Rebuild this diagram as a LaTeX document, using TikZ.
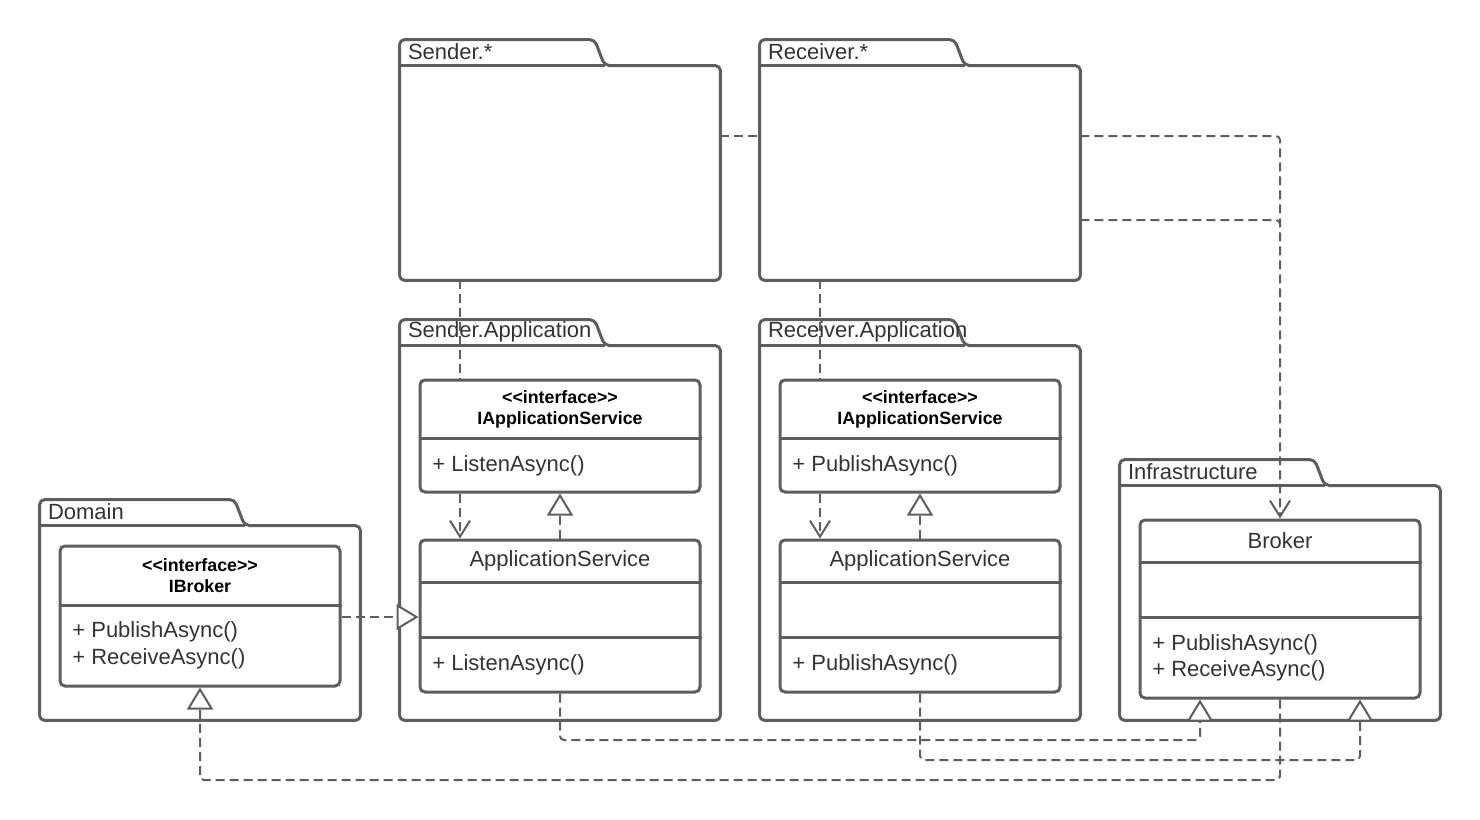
\documentclass[tikz,border=0pt]{standalone}
\usepackage{fontspec}
\newfontfamily\umlfont{Liberation Sans}
\usetikzlibrary{arrows.meta}
\usetikzlibrary{fit}
\definecolor{umlgray}{HTML}{5E5E5E}
\definecolor{umltext}{HTML}{333333}
\newcommand{\package}[7] % name, x1, y1, x2, y2 of body in px, tab width in px, label
{
	% body (for anchors only)
	\node[pkgbody, fit={(#2,#3) (#4,#5)}] (#1) {};
	% outline with tab
	\draw[pkgline] ([shift={(#6,0)}]#1.north west) -- (#1.north east) -- (#1.south east)
		-- (#1.south west) -- ([shift={(0,-26)}]#1.north west)
		-- ([shift={(#6-10,-26)}]#1.north west) -- cycle;
	% tab bottom
	\draw[pkgline] (#1.north west) -- ([shift={(#6,0)}]#1.north west);
	% label
	\node[pkglabel] (#1-label) at ([shift={(8,-14)}]#1.north west) {#7};
}
\newcommand{\umlclass}[5] % name, x1, y1, x2, y2 in px
{
	\node[classbox, fit={(#2,#3) (#4,#5)}] (#1) {};
}

\begin{document}
\begin{tikzpicture}[x=0.5pt, y=-0.5pt,
	pkgbody/.style={inner sep=0pt},
	pkgline/.style={draw=umlgray, line width=1.5pt, rounded corners=2.5pt},
	classbox/.style={draw=umlgray, line width=1.5pt, rounded corners=2.5pt, inner sep=0pt},
	pkglabel/.style={anchor=west, inner sep=0pt, text=umltext, font=\umlfont\fontsize{11}{13}\selectfont},
	member/.style={anchor=west, inner sep=0pt, align=left, text=umltext, font=\umlfont\fontsize{11}{13.25}\selectfont},
	title/.style={inner sep=0pt, text=umltext, font=\umlfont\fontsize{11}{13}\selectfont},
	stereo/.style={inner sep=0pt, align=center, text=black, font=\umlfont\bfseries\fontsize{8.9}{10.5}\selectfont},
	dep/.style={draw=umlgray, line width=1pt, dash pattern=on 4.5pt off 2.5pt, rounded corners=2pt},
	depend/.style={dep, -{Straight Barb[length=8pt, width=10pt]}},
	realize/.style={dep, -{Triangle[length=11pt, width=13pt, fill=white]}}]
	\useasboundingbox (0,0) rectangle (1480,820);
	% packages
	\package{senderpkg}{400}{66}{720}{280}{205}{Sender.*}
	\package{receiverpkg}{760}{66}{1080}{280}{205}{Receiver.*}
	\package{senderapp}{400}{346}{720}{720}{205}{Sender.Application}
	\package{receiverapp}{760}{346}{1080}{720}{205}{Receiver.Application}
	\package{domain}{40}{526}{360}{720}{205}{Domain}
	\package{infra}{1120}{486}{1440}{720}{205}{Infrastructure}

	% sender classes
	\umlclass{sIface}{420}{380}{700}{492}
	\draw[pkgline] (sIface.west |- 0,438) -- (sIface.east |- 0,438);
	\node[stereo] (sIface-name) at (560,409.5) {<<interface>>\\IApplicationService};
	\node[member] (sIface-ops) at (432,466) {+ ListenAsync()};
	\umlclass{sImpl}{420}{540}{700}{692}
	\draw[pkgline] (sImpl.west |- 0,582) -- (sImpl.east |- 0,582);
	\draw[pkgline] (sImpl.west |- 0,637) -- (sImpl.east |- 0,637);
	\node[title] (sImpl-name) at (560,561) {ApplicationService};
	\node[member] (sImpl-ops) at (432,665) {+ ListenAsync()};

	% receiver classes
	\umlclass{rIface}{780}{380}{1060}{492}
	\draw[pkgline] (rIface.west |- 0,438) -- (rIface.east |- 0,438);
	\node[stereo] (rIface-name) at (920,409.5) {<<interface>>\\IApplicationService};
	\node[member] (rIface-ops) at (792,466) {+ PublishAsync()};
	\umlclass{rImpl}{780}{540}{1060}{692}
	\draw[pkgline] (rImpl.west |- 0,582) -- (rImpl.east |- 0,582);
	\draw[pkgline] (rImpl.west |- 0,637) -- (rImpl.east |- 0,637);
	\node[title] (rImpl-name) at (920,561) {ApplicationService};
	\node[member] (rImpl-ops) at (792,665) {+ PublishAsync()};

	% domain
	\umlclass{iBroker}{60}{546}{340}{686}
	\draw[pkgline] (iBroker.west |- 0,605) -- (iBroker.east |- 0,605);
	\node[stereo] (iBroker-name) at (200,575.5) {<<interface>>\\IBroker};
	\node[member] (iBroker-ops) at (72,645.5) {+ PublishAsync()\\+ ReceiveAsync()};

	% infrastructure
	\umlclass{broker}{1140}{520}{1420}{698}
	\draw[pkgline] (broker.west |- 0,562) -- (broker.east |- 0,562);
	\draw[pkgline] (broker.west |- 0,617) -- (broker.east |- 0,617);
	\node[title] (broker-name) at (1280,541) {Broker};
	\node[member] (broker-ops) at (1152,658) {+ PublishAsync()\\+ ReceiveAsync()};

	% dependencies
	\draw[dep] (senderpkg.east |- 0,136) -- (receiverpkg.west |- 0,136);
	\draw[depend] (receiverpkg.east |- 0,136) -| (broker.north);
	\draw[dep] (receiverpkg.east |- 0,220) -| (broker.north |- 0,226);
	\draw[dep] (460,0 |- senderpkg.south) -- (460,0 |- sIface.north);
	\draw[dep] (820,0 |- receiverpkg.south) -- (820,0 |- rIface.north);
	\draw[depend] (460,0 |- sIface.south) -- (460,0 |- sImpl.north);
	\draw[depend] (820,0 |- rIface.south) -- (820,0 |- rImpl.north);

	% realizations
	\draw[realize] (sImpl.north) -- (sIface.south);
	\draw[realize] (rImpl.north) -- (rIface.south);
	\draw[realize] (iBroker.east |- 0,617) -- (sImpl.west |- 0,617);
	\draw[realize] (sImpl.south) |- (1200,740) -- (1200,0 |- broker.south);
	\draw[realize] (rImpl.south) |- (1360,760) -- (1360,0 |- broker.south);
	\draw[realize] (broker.south) |- (200,780) -- (200,0 |- iBroker.south);
\end{tikzpicture}
\end{document}
